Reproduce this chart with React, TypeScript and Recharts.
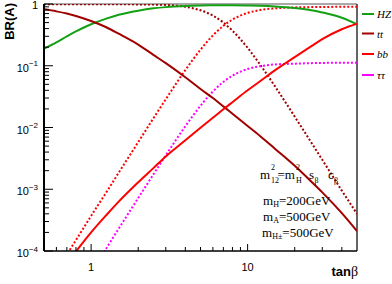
import React from 'react';
import { LineChart, Line, XAxis, YAxis, ReferenceLine } from 'recharts';

// tan(beta) sampling
const tanBeta = [0.5, 0.6, 0.7, 0.8, 1, 1.25, 1.5, 2, 2.5, 3, 4, 5, 6, 7, 8, 10, 12, 15, 20, 25, 30, 40, 50];

// solid curves
const brHZ = [0.19, 0.24, 0.30, 0.36, 0.47, 0.58, 0.67, 0.78, 0.85, 0.89, 0.93, 0.947, 0.955, 0.957, 0.956, 0.948, 0.935, 0.91, 0.86, 0.80, 0.73, 0.60, 0.47];
const brTT = [0.82, 0.76, 0.70, 0.64, 0.53, 0.42, 0.33, 0.22, 0.15, 0.11, 0.065, 0.042, 0.030, 0.022, 0.0167, 0.0106, 0.0073, 0.0045, 0.0024, 0.0014, 0.00089, 0.00041, 0.00021];
const brBB = [1.9e-5, 3.7e-5, 6.3e-5, 9.8e-5, 2.0e-4, 3.8e-4, 6.3e-4, 1.3e-3, 2.2e-3, 3.4e-3, 6.2e-3, 9.9e-3, 0.0144, 0.0197, 0.0257, 0.040, 0.056, 0.085, 0.138, 0.20, 0.27, 0.39, 0.48];

// dotted curves
const brTTdot = [0.99, 0.99, 0.99, 0.99, 0.99, 0.99, 0.988, 0.985, 0.978, 0.965, 0.90, 0.79, 0.65, 0.50, 0.37, 0.195, 0.105, 0.046, 0.015, 0.0062, 0.0030, 0.00095, 0.0004];
const brBBdot = [2.3e-5, 4.8e-5, 8.8e-5, 1.5e-4, 3.7e-4, 8.9e-4, 1.85e-3, 5.8e-3, 0.0141, 0.0287, 0.085, 0.182, 0.31, 0.442, 0.559, 0.716, 0.797, 0.85, 0.88, 0.89, 0.895, 0.90, 0.90];
const brTauDot = [2.8e-6, 5.9e-6, 1.1e-5, 1.9e-5, 4.5e-5, 1.1e-4, 2.3e-4, 7.2e-4, 1.74e-3, 3.55e-3, 0.0105, 0.0225, 0.0383, 0.0547, 0.069, 0.0885, 0.0985, 0.105, 0.108, 0.110, 0.111, 0.112, 0.112];

// ticks
const xTicks = [0.6, 0.7, 0.8, 0.9, 1, 2, 3, 4, 5, 6, 7, 8, 9, 10, 20, 30, 40];
const xMajor = [1, 10];
const xMajorLabels = ['1', '10'];
const yTicks = [
  1e-4, 2e-4, 3e-4, 4e-4, 5e-4, 6e-4, 7e-4, 8e-4, 9e-4,
  1e-3, 2e-3, 3e-3, 4e-3, 5e-3, 6e-3, 7e-3, 8e-3, 9e-3,
  1e-2, 2e-2, 3e-2, 4e-2, 5e-2, 6e-2, 7e-2, 8e-2, 9e-2,
  1e-1, 2e-1, 3e-1, 4e-1, 5e-1, 6e-1, 7e-1, 8e-1, 9e-1, 1,
];
const yMajor = [1e-4, 1e-3, 1e-2, 1e-1, 1];
const yMajorExp = ['\u22124', '\u22123', '\u22122', '\u22121', ''];

const legendItems = [
  { label: 'HZ', color: '#14a014' },
  { label: 'tt', color: '#a00000' },
  { label: 'bb', color: '#ff0000' },
  { label: '\u03c4\u03c4', color: '#ff00ff' },
];

const data = tanBeta.map((t, i) => ({
  t,
  hz: brHZ[i],
  tt: brTT[i],
  bb: brBB[i],
  ttd: brTTdot[i],
  bbd: brBBdot[i],
  taud: brTauDot[i],
}));

const SANS = '"Liberation Sans", Arial, sans-serif';
const SERIF = '"Liberation Serif", "Times New Roman", serif';

const findIdx = (arr: number[], v: number) => arr.findIndex((m) => Math.abs(m - v) / m < 1e-6);

const YTick = (props: any) => {
  const { x, y, payload } = props;
  const mi = findIdx(yMajor, payload.value);
  const len = mi >= 0 ? 9 : 5;
  return (
    <g>
      <line x1={x} x2={x + len} y1={y} y2={y} stroke="#000" strokeWidth={1} />
      {mi >= 0 && yMajorExp[mi] === '' && (
        <text x={x - 6} y={y + 4.5} textAnchor="end" fontFamily={SANS} fontSize={11} fill="#000">1</text>
      )}
      {mi >= 0 && yMajorExp[mi] !== '' && (
        <text x={x - 6} y={y + 6} textAnchor="end" fontFamily={SANS} fontSize={11} fill="#000">
          10<tspan dy={-5.5} fontSize={8}>{yMajorExp[mi]}</tspan>
        </text>
      )}
    </g>
  );
};

const XTick = (props: any) => {
  const { x, y, payload } = props;
  const mi = findIdx(xMajor, payload.value);
  const len = mi >= 0 ? 7 : 4;
  return (
    <g>
      <line x1={x} x2={x} y1={y} y2={y - len} stroke="#000" strokeWidth={1} />
      {mi >= 0 && (
        <text x={x} y={y + 20} textAnchor="middle" fontFamily={SANS} fontSize={11} fill="#000">{xMajorLabels[mi]}</text>
      )}
    </g>
  );
};

const XTitle = () => (
  <text x={358} y={276} textAnchor="end" fontFamily={SANS} fontSize={13} fontWeight="bold" fill="#000">
    tan<tspan fontFamily={SERIF} fontWeight="normal" fontSize={14}>{'\u03b2'}</tspan>
  </text>
);

const YTitle = () => (
  <text transform="rotate(-90)" x={-3} y={13.5} textAnchor="end" fontFamily={SANS} fontSize={13} fontWeight="bold" fill="#000">
    BR(A)
  </text>
);

export default function App() {
  return (
    <div style={{ position: 'absolute', left: 0, top: 0, width: 392, height: 284, background: '#fff' }}>
      <LineChart width={392} height={284} data={data} margin={{ top: 4, right: 35, bottom: 0, left: 0 }}>
        <XAxis
          dataKey="t"
          type="number"
          scale="log"
          domain={[0.5, 50]}
          allowDataOverflow
          ticks={xTicks}
          interval={0}
          tick={<XTick />}
          tickSize={0}
          tickMargin={0}
          tickLine={false}
          axisLine={{ stroke: '#000', strokeWidth: 1.5 }}
          height={33}
          label={<XTitle />}
        />
        <YAxis
          type="number"
          scale="log"
          domain={[1e-4, 1]}
          allowDataOverflow
          ticks={yTicks}
          interval={0}
          tick={<YTick />}
          tickSize={0}
          tickMargin={0}
          tickLine={false}
          axisLine={{ stroke: '#000', strokeWidth: 2 }}
          width={44}
          label={<YTitle />}
        />
        <ReferenceLine y={1} stroke="#555" strokeWidth={1} />
        <ReferenceLine x={50} stroke="#333" strokeWidth={1.5} />
        <Line dataKey="ttd" type="monotone" stroke="#a00000" strokeWidth={2} strokeDasharray="2 2" dot={false} activeDot={false} isAnimationActive={false} />
        <Line dataKey="bbd" type="monotone" stroke="#ff0000" strokeWidth={2} strokeDasharray="2 2" dot={false} activeDot={false} isAnimationActive={false} />
        <Line dataKey="taud" type="monotone" stroke="#ff00ff" strokeWidth={2} strokeDasharray="2 2" dot={false} activeDot={false} isAnimationActive={false} />
        <Line dataKey="hz" type="monotone" stroke="#14a014" strokeWidth={2} dot={false} activeDot={false} isAnimationActive={false} />
        <Line dataKey="tt" type="monotone" stroke="#a00000" strokeWidth={2} dot={false} activeDot={false} isAnimationActive={false} />
        <Line dataKey="bb" type="monotone" stroke="#ff0000" strokeWidth={2} dot={false} activeDot={false} isAnimationActive={false} />
      </LineChart>
      <svg width={392} height={284} style={{ position: 'absolute', left: 0, top: 0, pointerEvents: 'none' }}>
        {legendItems.map((it, i) => {
          const cy = [14, 33.5, 54, 75][i];
          return (
            <g key={it.label}>
              <line x1={362} x2={374} y1={cy} y2={cy} stroke={it.color} strokeWidth={2} />
              <text x={377} y={cy + 4} fontFamily={SERIF} fontStyle="italic" fontSize={11} fill="#000">{it.label}</text>
            </g>
          );
        })}
        <g fontFamily={SERIF} fill="#000">
          <text x={260} y={178.5} fontSize={13}>m</text>
          <text x={271} y={170} fontSize={8}>2</text>
          <text x={271} y={182.5} fontSize={8}>12</text>
          <text x={277.5} y={178.5} fontSize={13}>=m</text>
          <text x={296} y={170} fontSize={8}>2</text>
          <text x={296} y={182.5} fontSize={8}>H</text>
          <text x={309} y={178.5} fontSize={13}>s</text>
          <text x={314.5} y={182.5} fontSize={8}>{'\u03b2'}</text>
          <text x={328} y={178.5} fontSize={13}>c</text>
          <text x={334} y={182.5} fontSize={8}>{'\u03b2'}</text>

          <text x={263} y={205} fontSize={13}>m<tspan dy={2} fontSize={8}>H</tspan><tspan dy={-2}>=200GeV</tspan></text>
          <text x={263} y={221} fontSize={13}>m<tspan dy={2} fontSize={8}>A</tspan><tspan dy={-2}>=500GeV</tspan></text>
          <text x={262} y={237} fontSize={13}>m<tspan dy={2} fontSize={8}>H±</tspan><tspan dy={-2}>=500GeV</tspan></text>
        </g>
      </svg>
    </div>
  );
}
